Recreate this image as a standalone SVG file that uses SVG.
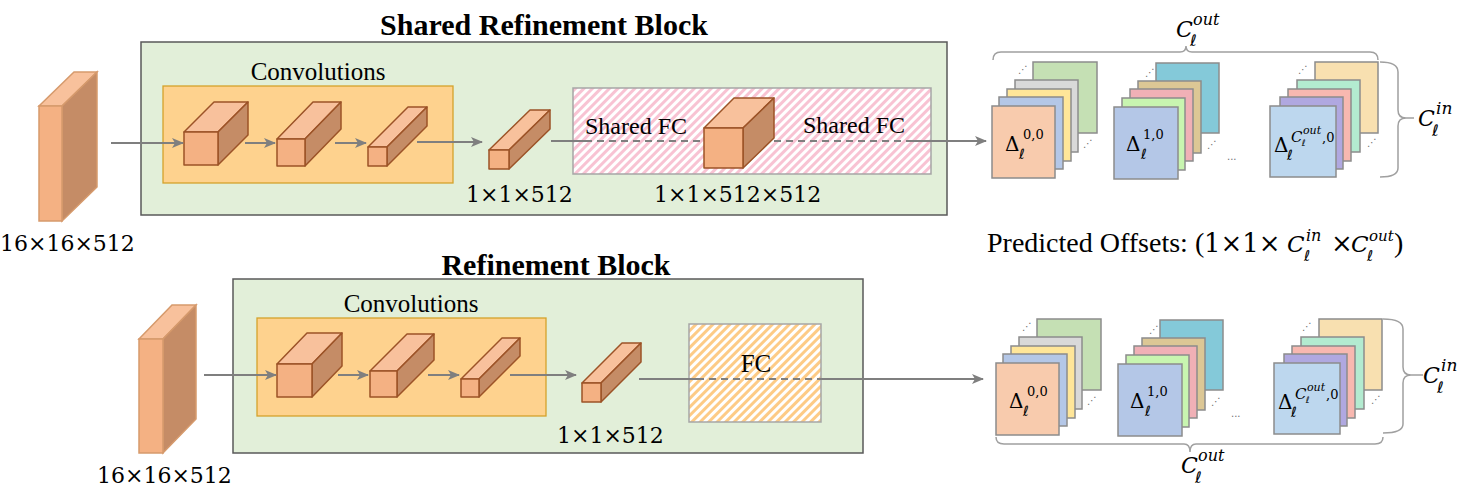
<svg xmlns="http://www.w3.org/2000/svg" width="1465" height="495" viewBox="0 0 1465 495">
<defs>
<style>
.block{fill:#e2efd9;stroke:#595959;stroke-width:1.5}
.conv{fill:#fed28e;stroke:#d4a22b;stroke-width:1.3}
.hatchbox{stroke:#a6a6a6;stroke-width:1.5}
.fr{fill:#f4b183;stroke:#9c5327;stroke-width:1.5;stroke-linejoin:round}
.tp{fill:#f8c19c;stroke:#9c5327;stroke-width:1.5;stroke-linejoin:round}
.sd{fill:#c58c66;stroke:#9c5327;stroke-width:1.5;stroke-linejoin:round}
.sfr{fill:#f4b183;stroke:#d69a6c;stroke-width:1.5}
.stp{fill:#f8c19c;stroke:#d69a6c;stroke-width:1.5}
.ssd{fill:#c58c66;stroke:#d69a6c;stroke-width:1.5}
.arr{stroke:#7f7f7f;stroke-width:2;fill:none}
.dash{stroke:#7f7f7f;stroke-width:2;fill:none;stroke-dasharray:7,5}
.brace{stroke:#a0a0a0;stroke-width:1.5;fill:none}
.card{stroke:#8c8c8c;stroke-width:1.5}
.title{font-family:"Liberation Serif",serif;font-weight:bold;font-size:30px;fill:#000}
.lbl{font-family:"Liberation Serif",serif;font-size:25px;fill:#000}
.lbl2{font-family:"Liberation Serif",serif;font-size:24px;fill:#000}
.big{font-family:"Liberation Serif",serif;font-size:28px;fill:#000}
.dim{font-family:"DejaVu Serif",serif;font-size:22px;fill:#000}
.mi{font-family:"DejaVu Serif",serif;font-style:italic;fill:#000}
.mr{font-family:"DejaVu Serif",serif;fill:#000}
.ell{font-family:"DejaVu Sans",sans-serif;fill:#000}
.dots{font-family:"DejaVu Sans",sans-serif;font-size:10px;fill:#6f6f6f}
</style>
<pattern id="hPink" width="6" height="6" patternUnits="userSpaceOnUse" patternTransform="rotate(45)">
<rect width="6" height="6" fill="#ffffff"/><rect width="3" height="6" fill="#f8c3d3"/>
</pattern>
<pattern id="hOrange" width="6" height="6" patternUnits="userSpaceOnUse" patternTransform="rotate(45)">
<rect width="6" height="6" fill="#ffffff"/><rect width="3" height="6" fill="#fdcb86"/>
</pattern>
<marker id="ah" markerWidth="12" markerHeight="10" refX="11" refY="5" orient="auto" markerUnits="userSpaceOnUse">
<path d="M0,0 L12,5 L0,10 L3,5 z" fill="#7f7f7f"/>
</marker>
</defs>
<rect width="1465" height="495" fill="#ffffff"/>

<!-- TOP: Shared Refinement Block -->
<g id="shared-block">
<rect class="block" x="141" y="42" width="806" height="173"/>
<text class="title" x="544" y="35" text-anchor="middle">Shared Refinement Block</text>
</g>
<g id="shared-convolutions">
<rect class="conv" x="163" y="86" width="290" height="97"/>
<text class="lbl" x="318" y="80" text-anchor="middle">Convolutions</text>
</g>
<g id="shared-fc">
<rect class="hatchbox" x="573" y="88" width="358" height="86" fill="url(#hPink)"/>
</g>

<g id="top-input">
<polygon class="stp" points="39,106 62,106 97,72 74,72"/>
<polygon class="ssd" points="62,106 97,72 97,187 62,221"/>
<rect class="sfr" x="39" y="106" width="23" height="115"/>
<text class="dim" x="0" y="251">16×16×512</text>
</g>
<g id="top-conv1">
<polygon class="tp" points="184,132 218,132 248,102 214,102"/>
<polygon class="sd" points="218,132 248,102 248,135 218,165"/>
<rect class="fr" x="184" y="132" width="34" height="33"/>
</g>
<g id="top-conv2">
<polygon class="tp" points="277,139 305,139 341,102 313,102"/>
<polygon class="sd" points="305,139 341,102 341,129 305,166"/>
<rect class="fr" x="277" y="139" width="28" height="27"/>
</g>
<g id="top-conv3">
<polygon class="tp" points="368,147 387,147 427,107 408,107"/>
<polygon class="sd" points="387,147 427,107 427,126 387,166"/>
<rect class="fr" x="368" y="147" width="19" height="19"/>
</g>
<g id="top-feat">
<polygon class="tp" points="489,150 509,150 550,110 530,110"/>
<polygon class="sd" points="509,150 550,110 550,129 509,169"/>
<rect class="fr" x="489" y="150" width="20" height="19"/>
<text class="dim" x="466" y="202">1×1×512</text>
</g>
<g id="top-weight">
<polygon class="tp" points="704,128 743,128 774,98 734,98"/>
<polygon class="sd" points="743,128 774,98 774,138 743,168"/>
<rect class="fr" x="704" y="128" width="39" height="40"/>
<text class="dim" x="654" y="202">1×1×512×512</text>
</g>

<!-- BOTTOM: Refinement Block -->
<g id="ref-block">
<rect class="block" x="233" y="279" width="630" height="174"/>
<text class="title" x="556" y="275" text-anchor="middle">Refinement Block</text>
</g>
<g id="ref-convolutions">
<rect class="conv" x="257" y="318" width="289" height="98"/>
<text class="lbl" x="411" y="312" text-anchor="middle">Convolutions</text>
</g>
<g id="ref-fc">
<rect class="hatchbox" x="689" y="324" width="132" height="98" fill="url(#hOrange)"/>
</g>
<g id="bot-input">
<polygon class="stp" points="139,339 163,339 196,305 172,305"/>
<polygon class="ssd" points="163,339 196,305 196,419 163,453"/>
<rect class="sfr" x="139" y="339" width="24" height="114"/>
<text class="dim" x="97" y="483">16×16×512</text>
</g>
<g id="bot-conv1">
<polygon class="tp" points="277,364 312,364 342,333 307,333"/>
<polygon class="sd" points="312,364 342,333 342,366 312,397"/>
<rect class="fr" x="277" y="364" width="35" height="33"/>
</g>
<g id="bot-conv2">
<polygon class="tp" points="370,371 397,371 434,334 407,334"/>
<polygon class="sd" points="397,371 434,334 434,360 397,397"/>
<rect class="fr" x="370" y="371" width="27" height="26"/>
</g>
<g id="bot-conv3">
<polygon class="tp" points="461,379 479,379 520,338 502,338"/>
<polygon class="sd" points="479,379 520,338 520,356 479,397"/>
<rect class="fr" x="461" y="379" width="18" height="18"/>
</g>
<g id="bot-feat">
<polygon class="tp" points="582,383 601,383 641,343 622,343"/>
<polygon class="sd" points="601,383 641,343 641,362 601,402"/>
<rect class="fr" x="582" y="383" width="19" height="19"/>
<text class="dim" x="557" y="443">1×1×512</text>
</g>

<!-- connectors -->
<g id="connectors">
<line class="arr" x1="111" y1="143" x2="183" y2="143" marker-end="url(#ah)"/>
<line class="arr" x1="245" y1="143" x2="275" y2="143" marker-end="url(#ah)"/>
<line class="arr" x1="335" y1="143" x2="366" y2="143" marker-end="url(#ah)"/>
<line class="arr" x1="417" y1="142" x2="482" y2="142" marker-end="url(#ah)"/>
<line class="arr" x1="551" y1="141" x2="585" y2="141"/>
<line class="dash" x1="585" y1="141" x2="704" y2="141"/>
<line class="dash" x1="774" y1="141" x2="913" y2="141"/>
<line class="arr" x1="913" y1="141" x2="986" y2="141" marker-end="url(#ah)"/>

<line class="arr" x1="204" y1="375" x2="276" y2="375" marker-end="url(#ah)"/>
<line class="arr" x1="338" y1="375" x2="368" y2="375" marker-end="url(#ah)"/>
<line class="arr" x1="428" y1="375" x2="459" y2="375" marker-end="url(#ah)"/>
<line class="arr" x1="510" y1="375" x2="576" y2="375" marker-end="url(#ah)"/>
<line class="arr" x1="639" y1="379" x2="697" y2="379"/>
<line class="dash" x1="697" y1="379" x2="817" y2="379"/>
<line class="arr" x1="817" y1="379" x2="983" y2="379" marker-end="url(#ah)"/>
</g>

<g id="fc-labels">
<text class="lbl2" x="585" y="134">Shared FC</text>
<text class="lbl2" x="803" y="133">Shared FC</text>
<text class="lbl" x="756" y="372" text-anchor="middle">FC</text>
</g>

<!-- TOP offsets -->
<g id="top-offsets">
<g id="top-stack1">
<rect class="card" x="1033" y="62" width="64" height="71" fill="#c5e0b4"/>
<rect class="card" x="1015" y="80" width="63" height="72" fill="#d9d9d9"/>
<rect class="card" x="1007" y="89" width="64" height="72" fill="#ffe699"/>
<rect class="card" x="999" y="97" width="64" height="72" fill="#b4c7e7"/>
<rect class="card" x="992" y="106" width="63" height="72" fill="#f8cbad"/>
<text class="dots" x="1018" y="73">⋰</text>
<text class="dots" x="1083" y="147">⋰</text>
<text class="mr" x="1005" y="151" font-size="20">Δ</text>
<text class="mr" x="1023" y="139" font-size="13">0,0</text>
<text class="ell" x="1019" y="159" font-size="14">ℓ</text>
</g>
<g id="top-stack2">
<rect class="card" x="1156" y="63" width="63" height="70" fill="#84c9d9"/>
<rect class="card" x="1138" y="81" width="63" height="72" fill="#dcc795"/>
<rect class="card" x="1130" y="89" width="63" height="72" fill="#f0b0b6"/>
<rect class="card" x="1122" y="98" width="63" height="72" fill="#c8f5b0"/>
<rect class="card" x="1114" y="107" width="64" height="72" fill="#b4c7e7"/>
<text class="dots" x="1145" y="76">⋰</text>
<text class="dots" x="1207" y="148">⋰</text>
<text class="mr" x="1126" y="151" font-size="20">Δ</text>
<text class="mr" x="1143" y="139" font-size="13">1,0</text>
<text class="ell" x="1141" y="159" font-size="14">ℓ</text>
</g>
<text class="dots" x="1227" y="160">...</text>
<g id="top-stack3">
<rect class="card" x="1315" y="62" width="63" height="71" fill="#f8e0b0"/>
<rect class="card" x="1297" y="80" width="63" height="72" fill="#b3ebd0"/>
<rect class="card" x="1288" y="89" width="63" height="72" fill="#f8b8b0"/>
<rect class="card" x="1280" y="97" width="63" height="72" fill="#b0a8e0"/>
<rect class="card" x="1270" y="106" width="66" height="71" fill="#bdd7ee"/>
<text class="dots" x="1298" y="73">⋰</text>
<text class="dots" x="1367" y="146">⋰</text>
<text class="mr" x="1274" y="152" font-size="20">Δ</text>
<text class="mi" x="1291" y="142" font-size="15">C</text>
<text class="mi" x="1303" y="134" font-size="11">out</text>
<text class="ell" x="1302" y="146" font-size="9">ℓ</text>
<text class="mr" x="1322" y="142" font-size="13">,0</text>
<text class="ell" x="1287" y="160" font-size="14">ℓ</text>
</g>
<path class="brace" d="M993,60 Q993,52 1001,52 L1180,52 Q1186,52 1186,46 Q1186,52 1192,52 L1370,52 Q1378,52 1378,60"/>
<path class="brace" d="M1380,62 Q1398,62 1398,72 L1398,110 Q1398,118 1406,118 L1414,118 M1406,118 Q1398,118 1398,126 L1398,168 Q1398,177 1380,177"/>
<text class="mi" x="1176" y="37" font-size="22">C</text>
<text class="mi" x="1193" y="25" font-size="16">out</text>
<text class="ell" x="1190" y="46" font-size="16">ℓ</text>
<text class="mi" x="1418" y="126" font-size="22">C</text>
<text class="mi" x="1436" y="114" font-size="17">in</text>
<text class="ell" x="1432" y="136" font-size="16">ℓ</text>
</g>

<g id="predicted-label">
<text class="big" x="987" y="252">Predicted Offsets: (</text>
<text class="mr" x="1204" y="252" font-size="26">1×1×</text>
<text class="mi" x="1287" y="252" font-size="23">C</text>
<text class="mi" x="1306" y="241" font-size="16">in</text>
<text class="ell" x="1304" y="261" font-size="15">ℓ</text>
<text class="mr" x="1331" y="252" font-size="26">×</text>
<text class="mi" x="1351" y="252" font-size="23">C</text>
<text class="mi" x="1369" y="241" font-size="15">out</text>
<text class="ell" x="1367" y="261" font-size="15">ℓ</text>
<text class="big" x="1394" y="252">)</text>
</g>

<!-- BOTTOM offsets -->
<g id="bottom-offsets">
<g transform="translate(4,257)">
<g id="bot-stack1">
<rect class="card" x="1033" y="62" width="64" height="71" fill="#c5e0b4"/>
<rect class="card" x="1015" y="80" width="63" height="72" fill="#d9d9d9"/>
<rect class="card" x="1007" y="89" width="64" height="72" fill="#ffe699"/>
<rect class="card" x="999" y="97" width="64" height="72" fill="#b4c7e7"/>
<rect class="card" x="992" y="106" width="63" height="72" fill="#f8cbad"/>
<text class="dots" x="1018" y="73">⋰</text>
<text class="dots" x="1083" y="147">⋰</text>
<text class="mr" x="1005" y="151" font-size="20">Δ</text>
<text class="mr" x="1023" y="139" font-size="13">0,0</text>
<text class="ell" x="1019" y="159" font-size="14">ℓ</text>
</g>
<g id="bot-stack2">
<rect class="card" x="1156" y="63" width="63" height="70" fill="#84c9d9"/>
<rect class="card" x="1138" y="81" width="63" height="72" fill="#dcc795"/>
<rect class="card" x="1130" y="89" width="63" height="72" fill="#f0b0b6"/>
<rect class="card" x="1122" y="98" width="63" height="72" fill="#c8f5b0"/>
<rect class="card" x="1114" y="107" width="64" height="72" fill="#b4c7e7"/>
<text class="dots" x="1145" y="76">⋰</text>
<text class="dots" x="1207" y="148">⋰</text>
<text class="mr" x="1126" y="151" font-size="20">Δ</text>
<text class="mr" x="1143" y="139" font-size="13">1,0</text>
<text class="ell" x="1141" y="159" font-size="14">ℓ</text>
</g>
<text class="dots" x="1227" y="160">...</text>
<g id="bot-stack3">
<rect class="card" x="1315" y="62" width="63" height="71" fill="#f8e0b0"/>
<rect class="card" x="1297" y="80" width="63" height="72" fill="#b3ebd0"/>
<rect class="card" x="1288" y="89" width="63" height="72" fill="#f8b8b0"/>
<rect class="card" x="1280" y="97" width="63" height="72" fill="#b0a8e0"/>
<rect class="card" x="1270" y="106" width="66" height="71" fill="#bdd7ee"/>
<text class="dots" x="1298" y="73">⋰</text>
<text class="dots" x="1367" y="146">⋰</text>
<text class="mr" x="1274" y="152" font-size="20">Δ</text>
<text class="mi" x="1291" y="142" font-size="15">C</text>
<text class="mi" x="1303" y="134" font-size="11">out</text>
<text class="ell" x="1302" y="146" font-size="9">ℓ</text>
<text class="mr" x="1322" y="142" font-size="13">,0</text>
<text class="ell" x="1287" y="160" font-size="14">ℓ</text>
</g>
</g>
<path class="brace" d="M996,437 Q996,444 1004,444 L1184,444 Q1190,444 1190,452 Q1190,444 1196,444 L1375,444 Q1383,444 1383,437"/>
<path class="brace" d="M1383,319 Q1403,319 1403,329 L1403,367 Q1403,375 1411,375 L1423,375 M1411,375 Q1403,375 1403,383 L1403,424 Q1403,433 1383,433"/>
<text class="mi" x="1181" y="473" font-size="22">C</text>
<text class="mi" x="1198" y="461" font-size="16">out</text>
<text class="ell" x="1195" y="483" font-size="16">ℓ</text>
<text class="mi" x="1423" y="383" font-size="22">C</text>
<text class="mi" x="1441" y="371" font-size="17">in</text>
<text class="ell" x="1437" y="393" font-size="16">ℓ</text>
</g>
</svg>
